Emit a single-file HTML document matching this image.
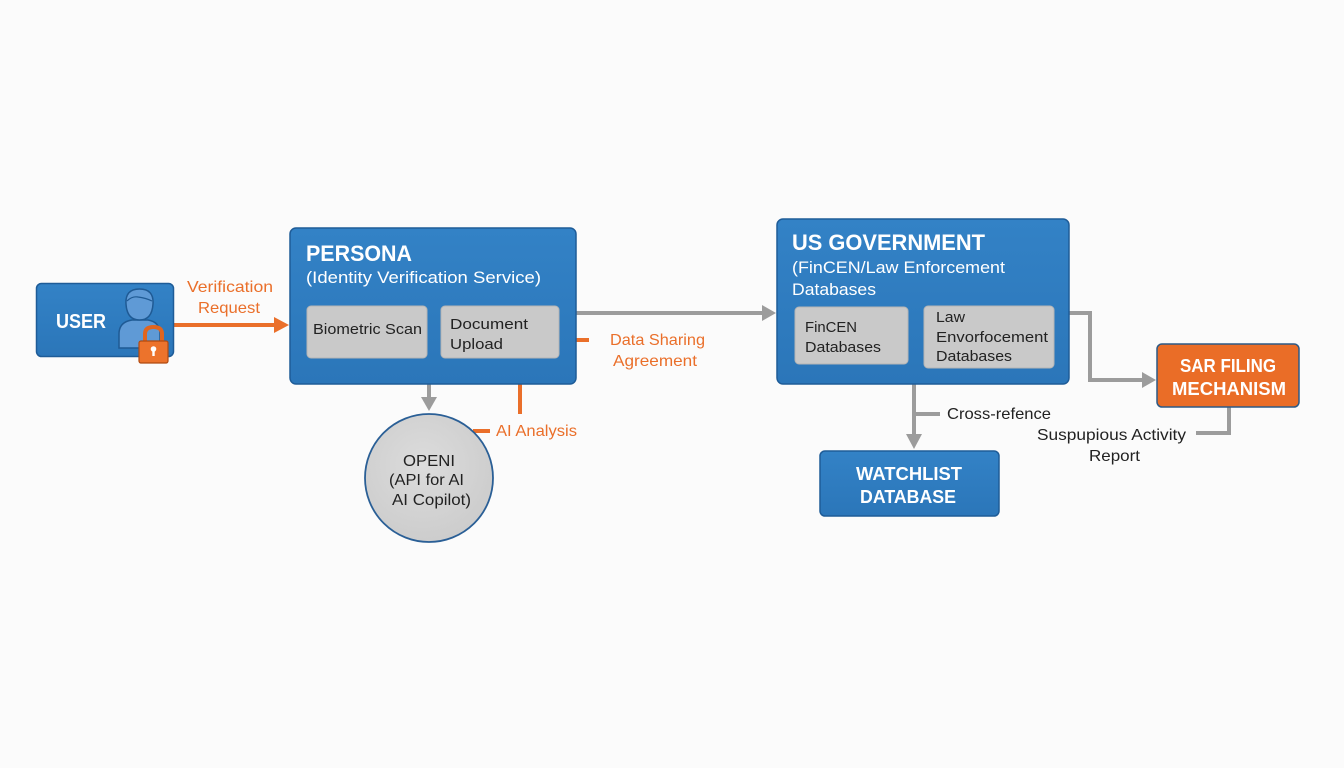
<!DOCTYPE html>
<html><head><meta charset="utf-8"><style>
html,body{margin:0;padding:0;background:#fbfbfb;}
svg{display:block;}
text{font-family:"Liberation Sans",sans-serif;}
</style></head><body>
<svg width="1344" height="768" viewBox="0 0 1344 768" xmlns="http://www.w3.org/2000/svg">
<defs>
<linearGradient id="bl" x1="0" y1="0" x2="0" y2="1"><stop offset="0" stop-color="#3382c6"/><stop offset="1" stop-color="#2b76b9"/></linearGradient>
<radialGradient id="cg" cx="0.45" cy="0.4" r="0.7"><stop offset="0" stop-color="#dcdcdc"/><stop offset="1" stop-color="#cacaca"/></radialGradient>
</defs>
<rect width="1344" height="768" fill="#fbfbfb"/>

<!-- connectors -->
<g fill="none" stroke="#9c9c9c" stroke-width="4">
  <line x1="576" y1="313" x2="764" y2="313"/>
  <polyline points="1069,313 1090,313 1090,380 1143,380"/>
  <polyline points="1229,407 1229,433 1196,433"/>
  <line x1="914" y1="384" x2="914" y2="436"/>
  <line x1="914" y1="414" x2="940" y2="414"/>
  <line x1="429" y1="384" x2="429" y2="400"/>
</g>
<g fill="#9c9c9c">
  <polygon points="776,313 762,305 762,321"/>
  <polygon points="1156,380 1142,372 1142,388"/>
  <polygon points="914,449 906,434 922,434"/>
  <polygon points="429,411 421,397 437,397"/>
</g>
<g fill="none" stroke="#ea6f2a" stroke-width="4">
  <line x1="173" y1="325" x2="276" y2="325"/>
  <line x1="576" y1="340" x2="589" y2="340"/>
  <line x1="520" y1="384" x2="520" y2="414"/>
  <line x1="473" y1="431" x2="490" y2="431"/>
</g>
<polygon points="289,325 274,317 274,333" fill="#ea6f2a"/>

<!-- USER box -->
<rect x="36.5" y="283.5" width="137" height="73" rx="5" fill="url(#bl)" stroke="#1e5c98" stroke-width="1.5"/>
<text x="56" y="328" font-size="20" font-weight="bold" fill="#fff" textLength="50" lengthAdjust="spacingAndGlyphs">USER</text>
<!-- person icon -->
<g stroke="#1f5a94" stroke-width="1.5" fill="#5f9ad6">
  <path d="M119,348 L119,334 Q119,322 132,320 L148,320 Q160,322 160,334 L160,348 Z"/>
  <path d="M126,304 Q125,289 139.5,289 Q154,289 153,304 Q152,320 139.5,320 Q127,320 126,304 Z"/>
</g>
<path d="M127,301 Q132,296 138,297 Q146,298 152,301" fill="none" stroke="#1f5a94" stroke-width="1.2"/>
<!-- lock -->
<path d="M145,342 L145,334 Q145,327 153.5,327 Q162,327 162,334 L162,342" fill="none" stroke="#e0651f" stroke-width="4"/>
<rect x="139" y="341" width="29" height="22" rx="2" fill="#ec732c" stroke="#b04a10" stroke-width="1.2"/>
<circle cx="153.5" cy="349" r="2.8" fill="#fff"/>
<rect x="152.3" y="349" width="2.4" height="7" fill="#fff"/>

<text x="187" y="292" font-size="16" fill="#ea6f2a" textLength="86" lengthAdjust="spacingAndGlyphs">Verification</text>
<text x="198" y="313" font-size="16" fill="#ea6f2a" textLength="62" lengthAdjust="spacingAndGlyphs">Request</text>

<!-- PERSONA -->
<rect x="290" y="228" width="286" height="156" rx="6" fill="url(#bl)" stroke="#1e5c98" stroke-width="1.5"/>
<text x="306" y="261" font-size="22" font-weight="bold" fill="#fff" textLength="106" lengthAdjust="spacingAndGlyphs">PERSONA</text>
<text x="306" y="283" font-size="17" fill="#fff" textLength="235" lengthAdjust="spacingAndGlyphs">(Identity Verification Service)</text>
<rect x="307" y="306" width="120" height="52" rx="4" fill="#c9c9c9" stroke="#b5b5b5"/>
<rect x="441" y="306" width="118" height="52" rx="4" fill="#c9c9c9" stroke="#b5b5b5"/>
<text x="313" y="334" font-size="15" fill="#222" textLength="109" lengthAdjust="spacingAndGlyphs">Biometric Scan</text>
<text x="450" y="329" font-size="15" fill="#222" textLength="78" lengthAdjust="spacingAndGlyphs">Document</text>
<text x="450" y="349" font-size="15" fill="#222" textLength="53" lengthAdjust="spacingAndGlyphs">Upload</text>

<text x="610" y="345" font-size="16" fill="#ea6f2a" textLength="95" lengthAdjust="spacingAndGlyphs">Data Sharing</text>
<text x="613" y="366" font-size="16" fill="#ea6f2a" textLength="84" lengthAdjust="spacingAndGlyphs">Agreement</text>

<!-- OPENI circle -->
<circle cx="429" cy="478" r="64" fill="url(#cg)" stroke="#2a5f96" stroke-width="1.8"/>
<text x="403" y="466" font-size="16" fill="#222" textLength="52" lengthAdjust="spacingAndGlyphs">OPENI</text>
<text x="389" y="485" font-size="16" fill="#222" textLength="75" lengthAdjust="spacingAndGlyphs">(API for AI</text>
<text x="392" y="505" font-size="16" fill="#222" textLength="79" lengthAdjust="spacingAndGlyphs">AI Copilot)</text>
<text x="496" y="436" font-size="16" fill="#ea6f2a" textLength="81" lengthAdjust="spacingAndGlyphs">AI Analysis</text>

<!-- US GOV -->
<rect x="777" y="219" width="292" height="165" rx="6" fill="url(#bl)" stroke="#1e5c98" stroke-width="1.5"/>
<text x="792" y="250" font-size="22" font-weight="bold" fill="#fff" textLength="193" lengthAdjust="spacingAndGlyphs">US GOVERNMENT</text>
<text x="792" y="273" font-size="17" fill="#fff" textLength="213" lengthAdjust="spacingAndGlyphs">(FinCEN/Law Enforcement</text>
<text x="792" y="295" font-size="17" fill="#fff" textLength="84" lengthAdjust="spacingAndGlyphs">Databases</text>
<rect x="795" y="307" width="113" height="57" rx="4" fill="#c9c9c9" stroke="#b5b5b5"/>
<rect x="924" y="306" width="130" height="62" rx="4" fill="#c9c9c9" stroke="#b5b5b5"/>
<text x="805" y="332" font-size="15" fill="#222" textLength="52" lengthAdjust="spacingAndGlyphs">FinCEN</text>
<text x="805" y="352" font-size="15" fill="#222" textLength="76" lengthAdjust="spacingAndGlyphs">Databases</text>
<text x="936" y="322" font-size="15" fill="#222" textLength="29" lengthAdjust="spacingAndGlyphs">Law</text>
<text x="936" y="342" font-size="15" fill="#222" textLength="112" lengthAdjust="spacingAndGlyphs">Envorfocement</text>
<text x="936" y="361" font-size="15" fill="#222" textLength="76" lengthAdjust="spacingAndGlyphs">Databases</text>

<!-- SAR -->
<rect x="1157" y="344" width="142" height="63" rx="5" fill="#ea6d27" stroke="#2d5a86" stroke-width="1.5"/>
<text x="1180" y="372" font-size="18" font-weight="bold" fill="#fff" textLength="96" lengthAdjust="spacingAndGlyphs">SAR FILING</text>
<text x="1172" y="395" font-size="18" font-weight="bold" fill="#fff" textLength="114" lengthAdjust="spacingAndGlyphs">MECHANISM</text>

<text x="947" y="419" font-size="16" fill="#222" textLength="104" lengthAdjust="spacingAndGlyphs">Cross-refence</text>
<text x="1037" y="440" font-size="16" fill="#222" textLength="149" lengthAdjust="spacingAndGlyphs">Suspupious Activity</text>
<text x="1089" y="461" font-size="16" fill="#222" textLength="51" lengthAdjust="spacingAndGlyphs">Report</text>

<!-- WATCHLIST -->
<rect x="820" y="451" width="179" height="65" rx="5" fill="url(#bl)" stroke="#1e5c98" stroke-width="1.5"/>
<text x="856" y="480" font-size="18" font-weight="bold" fill="#fff" textLength="106" lengthAdjust="spacingAndGlyphs">WATCHLIST</text>
<text x="860" y="503" font-size="18" font-weight="bold" fill="#fff" textLength="96" lengthAdjust="spacingAndGlyphs">DATABASE</text>
</svg>
</body></html>
